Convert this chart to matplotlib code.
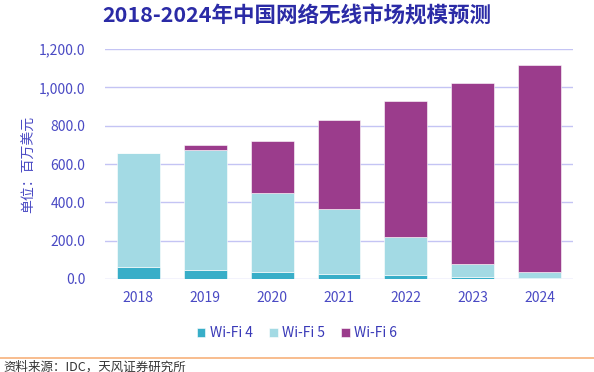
import matplotlib.pyplot as plt
import numpy as np

plt.rcParams['font.family'] = ['Noto Sans CJK SC', 'DejaVu Sans']

years = ['2018', '2019', '2020', '2021', '2022', '2023', '2024']
wifi4 = [63, 47, 35, 26, 23, 10, 4]
wifi5 = [596, 624, 412, 337, 194, 68, 34]
wifi6 = [0, 28, 271, 468, 713, 943, 1077]
series_names = ['Wi-Fi 4', 'Wi-Fi 5', 'Wi-Fi 6']
colors = ['#38AEC8', '#A3DAE4', '#9B3C8C']
yticks = [0, 200, 400, 600, 800, 1000, 1200]

TEXT_BLUE = '#4A4AC4'

fig = plt.figure(figsize=(5.94, 3.72), dpi=100)
ax = fig.add_axes([105 / 594, 1 - 279 / 372, 468 / 594, 230 / 372])

x = np.arange(len(years))
bottom = np.zeros(len(years))
for vals, name, col in zip([wifi4, wifi5, wifi6], series_names, colors):
    ax.bar(x, vals, 0.64, bottom=bottom, color=col, label=name,
           edgecolor='white', linewidth=0.4, zorder=3)
    bottom += np.array(vals)

ax.set_xlim(-0.5, len(years) - 0.5)
ax.set_ylim(0, 1200)
ax.set_yticks(yticks)
ax.set_yticklabels([f'{v:,.1f}' for v in yticks])
ax.set_xticks(x)
ax.set_xticklabels(years)
ax.grid(axis='y', color='#C4C4F4', linewidth=1.0, zorder=0)
ax.tick_params(axis='both', length=0, labelsize=10, colors=TEXT_BLUE, pad=9)
ax.tick_params(axis='y', pad=14)
for s in ax.spines.values():
    s.set_visible(False)
ax.set_ylabel('单位：百万美元', color=TEXT_BLUE, fontsize=10)
ax.yaxis.set_label_coords(-(105 - 36) / 468, 0.5)

fig.text(0.5, 1 - 16 / 372, '2018-2024年中国网络无线市场规模预测', ha='center', va='center',
         fontsize=15.5, fontweight='bold', color='#2B2BA6')

handles, labels = ax.get_legend_handles_labels()
fig.legend(handles, labels, loc='center', bbox_to_anchor=(0.5, 1 - 333 / 372), ncol=3,
           frameon=False, fontsize=10, labelcolor='#3A3AB8', handlelength=0.6,
           handleheight=0.6, handletextpad=0.3, columnspacing=1.2)

fig.add_artist(plt.Line2D([0, 1], [1 - 358 / 372] * 2, color='#F7B27C', linewidth=1.2))
fig.text(0.005, 1 - 361 / 372, '资料来源：IDC，天风证券研究所', ha='left', va='top',
         fontsize=9, color='#333333')

fig.savefig('out.png', dpi=100)
